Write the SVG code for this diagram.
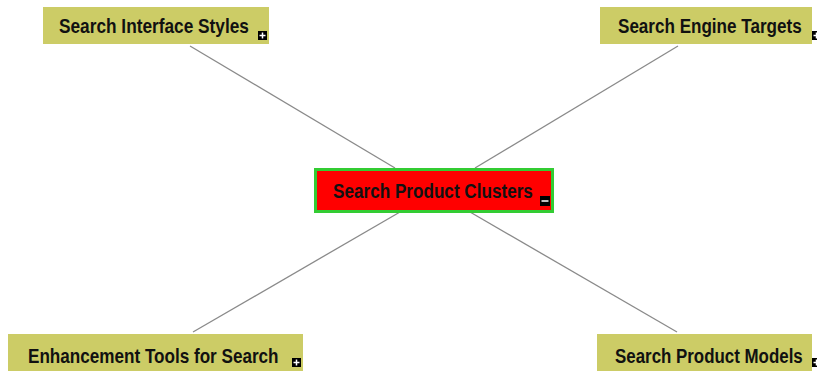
<svg xmlns="http://www.w3.org/2000/svg" width="817" height="371" viewBox="0 0 817 371">
<style>
.box{fill:#cccc66;}
.t{font-family:"Liberation Sans",Arial,sans-serif;font-weight:bold;font-size:21px;fill:#111;}
.ln{stroke:#8a8a8a;stroke-width:1.3;fill:none;}
.ic{fill:#000;}
.pl{stroke:#fff;stroke-width:1.5;}
</style>
<rect width="817" height="371" fill="#fff"/>
<g id="connectors">
<line class="ln" x1="190" y1="46" x2="395" y2="168"/>
<line class="ln" x1="678" y1="46" x2="475" y2="168"/>
<line class="ln" x1="400" y1="212" x2="193" y2="332"/>
<line class="ln" x1="470" y1="212" x2="677" y2="332"/>
</g>
<g id="n-interface">
<rect class="box" x="43" y="7" width="226" height="37"/>
<text class="t" transform="translate(59,33) scale(0.822,1)">Search Interface Styles</text>
<rect class="ic" x="258" y="31" width="9" height="9"/>
<path class="pl" d="M259.5 35.5h6M262.5 32.5v6"/>
</g>
<g id="n-engine">
<rect class="box" x="600" y="7" width="212" height="37"/>
<text class="t" transform="translate(618,33) scale(0.813,1)">Search Engine Targets</text>
<rect class="ic" x="812" y="31" width="9" height="9"/>
<path class="pl" d="M813.5 35.5h6M816.5 32.5v6"/>
</g>
<g id="n-center">
<rect x="315.5" y="169.5" width="237" height="42" fill="#ff0000" stroke="#33cc33" stroke-width="3"/>
<text class="t" transform="translate(333,198) scale(0.816,1)">Search Product Clusters</text>
<rect class="ic" x="540" y="196" width="10" height="10"/>
<path class="pl" d="M541.5 201h7"/>
</g>
<g id="n-enhance">
<rect class="box" x="8" y="334" width="295" height="40"/>
<text class="t" transform="translate(28,363) scale(0.815,1)">Enhancement Tools for Search</text>
<rect class="ic" x="292" y="358" width="9" height="9"/>
<path class="pl" d="M293.5 362.5h6M296.5 359.5v6"/>
</g>
<g id="n-models">
<rect class="box" x="597" y="334" width="215" height="40"/>
<text class="t" transform="translate(615,363) scale(0.805,1)">Search Product Models</text>
<rect class="ic" x="812" y="358" width="9" height="9"/>
<path class="pl" d="M813.5 362.5h6M816.5 359.5v6"/>
</g>
</svg>
